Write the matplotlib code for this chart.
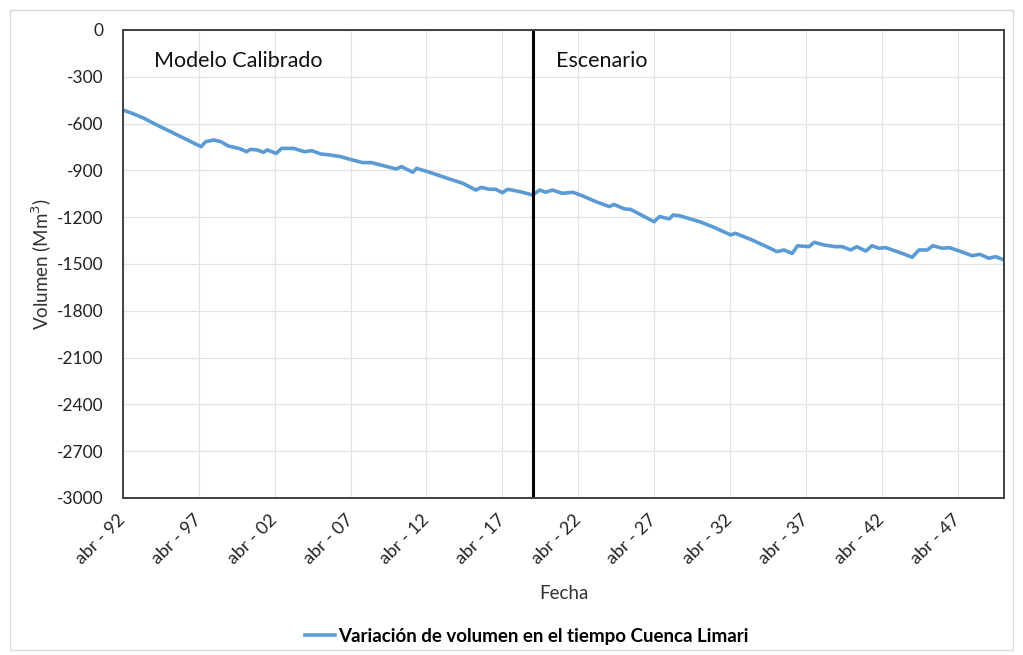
import matplotlib
matplotlib.use("Agg")
import matplotlib.pyplot as plt
from matplotlib.patches import Rectangle
from matplotlib.transforms import ScaledTranslation

plt.rcParams['font.family'] = ['Lato', 'DejaVu Sans']

# Time (decimal years) and volume change (Mm3)
years = [1992.25, 1992.6, 1993.0, 1993.64, 1994.5, 1995.4, 1996.5, 1997.4, 1997.7, 1998.24,
         1998.7, 1999.2, 1999.9, 2000.4, 2000.65, 2001.1, 2001.5, 2001.75, 2002.35, 2002.7,
         2003.5, 2004.2, 2004.7, 2005.3, 2005.9, 2006.6, 2007.2, 2008.05, 2008.6,
         2009.5, 2010.25, 2010.6, 2011.35, 2011.6, 2012.45, 2013.3, 2014.65, 2015.5, 2015.85,
         2016.4, 2016.8, 2017.25, 2017.6, 2018.4, 2019.25, 2019.7, 2020.1, 2020.55, 2021.2,
         2021.9, 2022.5, 2023.4, 2024.3, 2024.6, 2025.3, 2025.7, 2027.25, 2027.6, 2028.25,
         2028.5, 2028.9, 2030.25, 2031.1, 2032.3, 2032.6, 2033.7, 2034.8, 2035.35, 2035.8,
         2036.35, 2036.7, 2037.45, 2037.8, 2038.45, 2039.2, 2039.65, 2040.2, 2040.6, 2041.2,
         2041.6, 2042.05, 2042.5, 2043.6, 2044.25, 2044.7, 2045.25, 2045.6, 2046.25, 2046.7,
         2047.6, 2048.2, 2048.7, 2049.3, 2049.75, 2050.3]
volume = [-513, -525, -540, -566, -610, -652, -705, -748, -716, -705,
          -716, -744, -759, -780, -765, -769, -784, -769, -791, -759,
          -759, -780, -774, -795, -801, -812, -829, -850, -850,
          -872, -891, -876, -912, -887, -912, -940, -983, -1026, -1009,
          -1021, -1021, -1043, -1021, -1036, -1058, -1026, -1040, -1026, -1047,
          -1040, -1062, -1100, -1132, -1118, -1147, -1150, -1229, -1196, -1211,
          -1186, -1190, -1229, -1261, -1314, -1303, -1346, -1395, -1421, -1410,
          -1432, -1383, -1389, -1361, -1378, -1389, -1389, -1410, -1389, -1417,
          -1383, -1399, -1395, -1432, -1457, -1410, -1410, -1383, -1399, -1395,
          -1425, -1447, -1438, -1463, -1453, -1474]

tick_years = [1992.25, 1997.25, 2002.25, 2007.25, 2012.25, 2017.25,
              2022.25, 2027.25, 2032.25, 2037.25, 2042.25, 2047.25]
tick_labels = ['abr - 92', 'abr - 97', 'abr - 02', 'abr - 07', 'abr - 12', 'abr - 17',
               'abr - 22', 'abr - 27', 'abr - 32', 'abr - 37', 'abr - 42', 'abr - 47']
y_ticks = [0, -300, -600, -900, -1200, -1500, -1800, -2100, -2400, -2700, -3000]
split_year = 2019.25

fig = plt.figure(figsize=(10.23, 6.55), dpi=100)
ax = fig.add_axes([0.1202, 0.2397, 0.8612, 0.7145])

ax.plot(years, volume, color='#5B9BD5', lw=2.6,
        label='Variación de volumen en el tiempo Cuenca Limari', solid_joinstyle='round')
ax.axvline(split_year, color='black', lw=2.2)

ax.set_xlim(1992.25, 2050.3)
ax.set_ylim(-3000, 0)
ax.set_xticks(tick_years)
ax.set_xticklabels(tick_labels, rotation=45, ha='right', va='center',
                   rotation_mode='anchor', fontsize=13, color='#222222')
shift = ScaledTranslation(5 / 100, -3 / 100, fig.dpi_scale_trans)
for lbl in ax.get_xticklabels():
    lbl.set_transform(lbl.get_transform() + shift)
ax.set_yticks(y_ticks)
ax.set_yticklabels([str(v) for v in y_ticks], fontsize=12.5, color='#222222')
ax.tick_params(axis='y', length=0, pad=14)
ax.tick_params(axis='x', length=0, pad=14)
ax.grid(True, color='#e3e3e3', lw=0.9)
ax.set_axisbelow(True)
for s in ax.spines.values():
    s.set_color('#404040')
    s.set_linewidth(1.4)

ax.set_xlabel('Fecha', fontsize=13.5, color='#333333', labelpad=13)
ax.set_ylabel('Volumen (Mm$^3$)', fontsize=13.5, color='#333333', labelpad=2)

ax.text(1994.3, -200, 'Modelo Calibrado', fontsize=15.5, va='center', color='#111111')
ax.text(2020.8, -200, 'Escenario', fontsize=15.5, va='center', color='#111111')

leg = fig.legend(loc='center', bbox_to_anchor=(0.515, 0.029), frameon=False,
                 prop={'weight': 'bold', 'size': 13.5}, handlelength=1.6, handletextpad=0.15)

fig.patches.append(Rectangle((0.01, 0.008), 0.98, 0.977, transform=fig.transFigure,
                             fill=False, edgecolor='#d9d9d9', lw=1.0))

fig.savefig('out.png', dpi=100, facecolor='white')
